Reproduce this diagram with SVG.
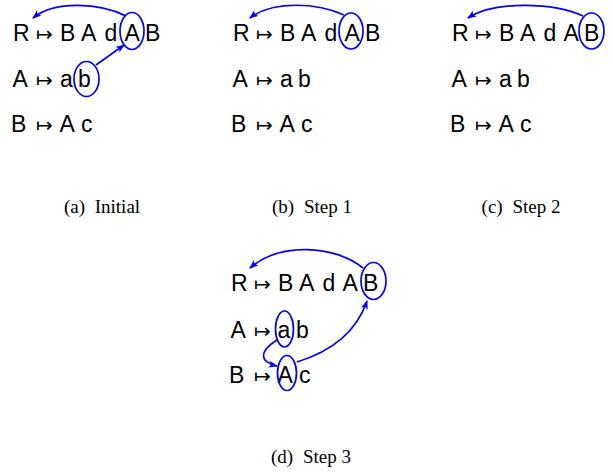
<svg xmlns="http://www.w3.org/2000/svg" width="613" height="475" viewBox="0 0 613 475">
<style>
.t{font-family:"Liberation Sans",Arial,sans-serif;font-size:23px;fill:#000}
.m{font-family:"DejaVu Sans",sans-serif;font-size:20px}
.cap{font-family:"Liberation Serif","Times New Roman",serif;font-size:19px;fill:#000;text-anchor:middle}
.e{fill:none;stroke:#0000ff;stroke-width:1.7}
.c{fill:none;stroke:#0000ff;stroke-width:1.7;marker-end:url(#ah)}
</style>
<defs>
<marker id="ah" markerUnits="userSpaceOnUse" markerWidth="10" markerHeight="8" refX="8" refY="3.5" orient="auto">
<path d="M0,0 L9,3.5 L0,7 L2,3.5 z" fill="#0000ff"/>
</marker>
</defs>
<rect width="613" height="475" fill="#fff"/>

<g id="panel-a">
<text class="t" y="41"><tspan x="13">R</tspan><tspan class="m" x="36">↦</tspan><tspan x="60">B</tspan><tspan x="81">A</tspan><tspan x="104.5">d</tspan><tspan x="124.5">A</tspan><tspan x="145">B</tspan></text>
<text class="t" y="87"><tspan x="12.5">A</tspan><tspan class="m" x="36">↦</tspan><tspan x="60">a</tspan><tspan x="78">b</tspan></text>
<text class="t" y="132"><tspan x="11">B</tspan><tspan class="m" x="36">↦</tspan><tspan x="59.5">A</tspan><tspan x="81">c</tspan></text>
<ellipse class="e" cx="132" cy="31" rx="12" ry="18.5"/>
<ellipse class="e" cx="86.5" cy="79" rx="12.5" ry="17.5"/>
<text class="cap" x="102" y="213">(a) <tspan dx="5">Initial</tspan></text>
</g>

<g id="panel-b">
<text class="t" y="41"><tspan x="233">R</tspan><tspan class="m" x="256">↦</tspan><tspan x="280">B</tspan><tspan x="301">A</tspan><tspan x="324.5">d</tspan><tspan x="344.5">A</tspan><tspan x="365">B</tspan></text>
<text class="t" y="87"><tspan x="232.5">A</tspan><tspan class="m" x="256">↦</tspan><tspan x="280">a</tspan><tspan x="298">b</tspan></text>
<text class="t" y="132"><tspan x="231">B</tspan><tspan class="m" x="256">↦</tspan><tspan x="279.5">A</tspan><tspan x="301">c</tspan></text>
<ellipse class="e" cx="351" cy="31" rx="12" ry="18"/>
<text class="cap" x="312" y="213">(b) <tspan dx="5">Step 1</tspan></text>
</g>

<g id="panel-c">
<text class="t" y="41"><tspan x="452">R</tspan><tspan class="m" x="475">↦</tspan><tspan x="499">B</tspan><tspan x="520">A</tspan><tspan x="543.5">d</tspan><tspan x="563.5">A</tspan><tspan x="584">B</tspan></text>
<text class="t" y="87"><tspan x="451.5">A</tspan><tspan class="m" x="475">↦</tspan><tspan x="499">a</tspan><tspan x="517">b</tspan></text>
<text class="t" y="132"><tspan x="450">B</tspan><tspan class="m" x="475">↦</tspan><tspan x="498.5">A</tspan><tspan x="520">c</tspan></text>
<ellipse class="e" cx="591.5" cy="31" rx="12.5" ry="18"/>
<text class="cap" x="521" y="213">(c) <tspan dx="5">Step 2</tspan></text>
</g>

<g id="panel-d">
<text class="t" y="291"><tspan x="231">R</tspan><tspan class="m" x="254">↦</tspan><tspan x="278">B</tspan><tspan x="299">A</tspan><tspan x="322.5">d</tspan><tspan x="342.5">A</tspan><tspan x="363">B</tspan></text>
<text class="t" y="338"><tspan x="230.5">A</tspan><tspan class="m" x="254">↦</tspan><tspan x="277.5">a</tspan><tspan x="296">b</tspan></text>
<text class="t" y="383"><tspan x="229">B</tspan><tspan class="m" x="254">↦</tspan><tspan x="277.5">A</tspan><tspan x="299">c</tspan></text>
<ellipse class="e" cx="373.5" cy="281" rx="12.5" ry="18.5"/>
<ellipse class="e" cx="284.5" cy="329" rx="9" ry="18"/>
<ellipse class="e" cx="287" cy="373" rx="9.5" ry="17.5"/>
<text class="cap" x="311" y="463">(d) <tspan dx="5">Step 3</tspan></text>
</g>

<g id="connectors">
<path class="c" d="M126,16 C100,3 55,0 33,18"/>
<path class="c" d="M96,65 L124,45"/>
<path class="c" d="M344,15 C318,3 273,0 250,18"/>
<path class="c" d="M583,16 C555,3 495,0 468,18"/>
<path class="c" d="M363,268 C335,245 280,242 250,268"/>
<path class="c" d="M277,340 C258,352 260,362 277,366"/>
<path class="c" d="M297,362 Q352,345 367,301"/>
</g>
</svg>
